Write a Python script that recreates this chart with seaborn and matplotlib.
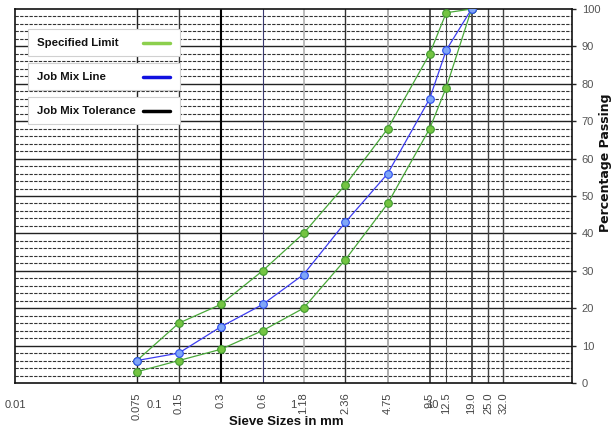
import matplotlib
matplotlib.use("Agg")
import matplotlib.pyplot as plt
from matplotlib import font_manager
from matplotlib.patches import Rectangle
from matplotlib.lines import Line2D
import numpy as np
import pandas as pd
import seaborn as sns

# ---------------- data ----------------
sieve = [0.075, 0.15, 0.3, 0.6, 1.18, 2.36, 4.75, 9.5, 12.5, 19.0]
upper_limit = [6, 16, 21, 30, 40, 53, 68, 88, 99, 100]
job_mix = [6, 8, 15, 21, 29, 43, 56, 76, 89, 100]
lower_limit = [3, 6, 9, 14, 20, 33, 48, 68, 79, 100]

tick_sizes = [0.075, 0.15, 0.3, 0.6, 1.18, 2.36, 4.75, 9.5, 12.5, 19.0, 25.0, 32.0]
tick_labels = ["0.075", "0.15", "0.3", "0.6", "1.18", "2.36", "4.75", "9.5",
               "12.5", "19.0", "25.0", "32.0"]
decade_ticks = [0.01, 0.1, 1, 10]
decade_labels = ["0.01", "0.1", "1", "10"]
y_ticks = list(range(0, 101, 10))
legend_labels = ["Specified Limit", "Job Mix Line", "Job Mix Tolerance"]

# ---------------- style ----------------
sns.set_style("white")
plt.rcParams["font.family"] = ["Liberation Sans", "DejaVu Sans"]

W, H = 611, 432
fig = plt.figure(figsize=(W / 100, H / 100), dpi=100)
ax = fig.add_axes([15 / W, 1 - 383 / H, (572 - 15) / W, (383 - 9) / H])

# horizontal grid
for v in range(2, 100, 2):
    if v % 10 == 0:
        ax.axhline(v, color="#222222", lw=1.0, zorder=1)
    else:
        ax.axhline(v, color="#333333", lw=0.8, ls=(0, (3, 1.2)), zorder=1)

# vertical grid at sieve sizes
vcolors = ["#222222", "#333333", "#000000", "#3a3a70", "#b0b0b0", "#333333",
           "#a0a0a0", "#333333", "#444444", "#333333", "#444444", "#444444"]
vwidths = [1.0, 1.0, 1.5, 0.8, 1.2, 1.0, 1.2, 1.2, 0.8, 1.2, 1.0, 1.0]
for s, c, w in zip(tick_sizes, vcolors, vwidths):
    ax.axvline(s, color=c, lw=w, zorder=1)

df = pd.DataFrame({"Sieve": sieve, "Upper": upper_limit, "Job": job_mix, "Lower": lower_limit})

green_line = "#4aa83a"
for col in ["Upper", "Lower"]:
    sns.lineplot(data=df, x="Sieve", y=col, ax=ax, color=green_line, lw=0.9,
                 marker="o", markersize=5.5, markerfacecolor="#74c442",
                 markeredgecolor="#3f9a2e", markeredgewidth=0.8, zorder=3)
sns.lineplot(data=df, x="Sieve", y="Job", ax=ax, color="#3d3df0", lw=0.9,
             marker="o", markersize=5.5, markerfacecolor="#7fa6f7",
             markeredgecolor="#2b4cf0", markeredgewidth=0.8, zorder=4)

ax.set_xscale("log")
ax.set_xlim(0.01, 100)
ax.set_ylim(0, 100)
ax.set_xlabel("")
ax.set_ylabel("")

ax.set_xticks(tick_sizes, labels=tick_labels, rotation=90)
ax.set_xticks(decade_ticks, labels=decade_labels, minor=True)
ax.tick_params(axis="x", which="major", length=0, pad=7, labelsize=8, labelcolor="#444444")
ax.tick_params(axis="x", which="minor", length=3, width=0.8, pad=9, labelsize=8,
               labelcolor="#444444", color="#444444", direction="out")

ax.yaxis.tick_right()
ax.set_yticks(y_ticks)
ax.tick_params(axis="y", which="both", length=3, width=1.0, pad=4, labelsize=8,
               labelcolor="#555555", color="#222222", direction="out", right=True, left=False)
for sp in ax.spines.values():
    sp.set_visible(True)
    sp.set_color("#111111")
    sp.set_linewidth(1.2)

fig.text(286 / W, 1 - 422 / H, "Sieve Sizes in mm", ha="center", va="center",
         fontsize=9.5, fontweight="bold", color="#111111")
fig.text(606 / W, 1 - 163 / H, "Percentage Passing", ha="center", va="center",
         rotation=90, fontsize=9, fontweight="bold", color="#111111",
         family=["DejaVu Sans"])

# legend boxes
legend_colors = ["#8ccf4d", "#1010e0", "#000000"]
boxes = [(29, 56), (63, 90), (97, 124)]
for lab, col, (y1, y2) in zip(legend_labels, legend_colors, boxes):
    fig.add_artist(Rectangle((28 / W, 1 - y2 / H), 152 / W, (y2 - y1) / H,
                             transform=fig.transFigure, facecolor="white",
                             edgecolor="#d0d0d0", lw=0.8, zorder=10))
    yc = 1 - (y1 + y2) / 2 / H
    fig.text(37 / W, yc, lab, ha="left", va="center", fontsize=8.2,
             fontweight="bold", color="#111111", zorder=11)
    fig.add_artist(Line2D([143 / W, 170 / W], [yc, yc], transform=fig.transFigure,
                          color=col, lw=2.5, zorder=11))

fig.savefig("out.png", dpi=100)
